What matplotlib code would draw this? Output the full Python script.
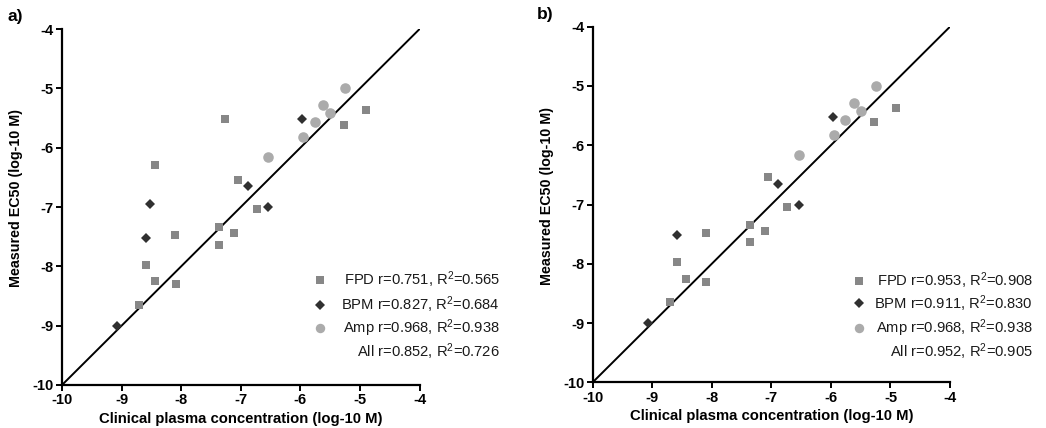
import matplotlib
matplotlib.use("Agg")
import matplotlib.pyplot as plt

plt.rcParams['font.family'] = ['Liberation Sans', 'DejaVu Sans']
plt.rcParams['mathtext.default'] = 'regular'

# ---- data (log-10 M) ----
# Panel a
fpd_x_a = [-7.27, -8.44, -7.05, -6.73, -7.36, -7.11, -7.36, -8.10, -8.59, -8.44, -8.09, -8.70, -5.27, -4.90]
fpd_y_a = [-5.52, -6.29, -6.54, -7.04, -7.34, -7.44, -7.64, -7.48, -7.97, -8.25, -8.30, -8.65, -5.61, -5.37]
bpm_x_a = [-5.97, -6.88, -6.54, -8.53, -8.59, -9.07]
bpm_y_a = [-5.52, -6.65, -7.00, -6.95, -7.52, -9.00]
amp_x_a = [-5.25, -5.62, -5.50, -5.755, -5.95, -6.54]
amp_y_a = [-5.00, -5.28, -5.42, -5.57, -5.82, -6.16]
# Panel b
fpd_x_b = [-7.05, -6.73, -7.36, -7.11, -7.36, -8.10, -8.59, -8.44, -8.09, -8.70, -5.27, -4.90]
fpd_y_b = [-6.54, -7.04, -7.34, -7.44, -7.64, -7.48, -7.97, -8.25, -8.30, -8.65, -5.61, -5.37]
bpm_x_b = [-5.97, -6.88, -6.54, -8.59, -9.07]
bpm_y_b = [-5.52, -6.65, -7.00, -7.52, -9.00]
amp_x_b = [-5.25, -5.62, -5.50, -5.755, -5.95, -6.54]
amp_y_b = [-5.00, -5.28, -5.42, -5.57, -5.82, -6.16]

legend_a = ["FPD r=0.751, R$^2$=0.565", "BPM r=0.827, R$^2$=0.684",
            "Amp r=0.968, R$^2$=0.938", "All r=0.852, R$^2$=0.726"]
legend_b = ["FPD r=0.953, R$^2$=0.908", "BPM r=0.911, R$^2$=0.830",
            "Amp r=0.968, R$^2$=0.938", "All r=0.952, R$^2$=0.905"]

ticks = [-10, -9, -8, -7, -6, -5, -4]
identity = [-10, -4]

FPD_C = '#878787'
BPM_C = '#303030'
AMP_C = '#ababab'

W, H = 1046, 428
fig = plt.figure(figsize=(W / 100, H / 100), dpi=100)


def make_ax(l, r, t, b):
    return fig.add_axes([l / W, 1 - b / H, (r - l) / W, (b - t) / H])


def draw(ax, fx, fy, bx, by, ax_, ay, labels, mx, tx, rows):
    ax.plot(identity, identity, color='black', lw=1.4, zorder=1)
    ax.plot(fx, fy, 's', color=FPD_C, ms=6.3, mew=0, zorder=3, clip_on=False)
    ax.plot(bx, by, 'D', color=BPM_C, ms=5.1, mew=0, zorder=3, clip_on=False)
    ax.plot(ax_, ay, 'o', color=AMP_C, ms=7.6, mew=0, zorder=3, clip_on=False)
    ax.set_xlim(-10, -4)
    ax.set_ylim(-10, -4)
    ax.set_xticks(ticks)
    ax.set_yticks(ticks)
    ax.set_xticklabels([str(t) for t in ticks], fontweight='bold', fontsize=10.5)
    ax.set_yticklabels([str(t) for t in ticks], fontweight='bold', fontsize=10.5)
    for s in ['top', 'right']:
        ax.spines[s].set_visible(False)
    for s in ['left', 'bottom']:
        ax.spines[s].set_linewidth(1.6)
    ax.tick_params(direction='out', length=4, width=1.4, pad=2)
    ax.set_xlabel('Clinical plasma concentration (log-10 M)', fontweight='bold', fontsize=10.7, labelpad=3)
    ax.set_ylabel('Measured EC50 (log-10 M)', fontweight='bold', fontsize=10.3)
    ax.yaxis.set_label_coords(-0.108, 0.525)
    styles = [('s', FPD_C, 5.6), ('D', BPM_C, 4.9), ('o', AMP_C, 6.8)]
    for i, lab in enumerate(labels):
        ax.text(tx, rows[i], lab, transform=ax.transAxes, ha='right', va='center',
                fontsize=10.6, color='#1a1a1a')
        if i < 3:
            m, c, s = styles[i]
            ax.plot([mx], [rows[i]], m, color=c, ms=s, mew=0, transform=ax.transAxes, clip_on=False)


ax1 = make_ax(62, 419.6, 29, 385)
draw(ax1, fpd_x_a, fpd_y_a, bpm_x_a, bpm_y_a, amp_x_a, amp_y_a, legend_a,
     0.7215, 1.225, [0.295, 0.2247, 0.160, 0.0927])
ax2 = make_ax(592.7, 950, 26.7, 382.3)
draw(ax2, fpd_x_b, fpd_y_b, bpm_x_b, bpm_y_b, amp_x_b, amp_y_b, legend_b,
     0.745, 1.232, [0.286, 0.222, 0.152, 0.085])

fig.text(8 / W, 1 - 17 / H, 'a)', fontweight='bold', fontsize=12.5, va='center', ha='left')
fig.text(537 / W, 1 - 15 / H, 'b)', fontweight='bold', fontsize=12.5, va='center', ha='left')

fig.savefig('out.png', dpi=100, facecolor='white')
